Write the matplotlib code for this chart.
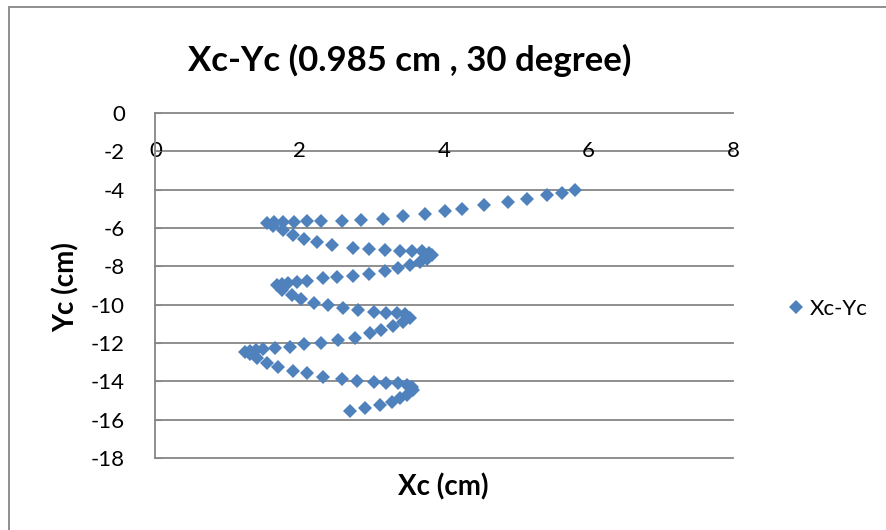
import matplotlib
matplotlib.use("Agg")
import matplotlib.pyplot as plt
from matplotlib.patches import Rectangle

plt.rcParams['font.family'] = ['Lato', 'DejaVu Sans']
plt.rcParams['axes.unicode_minus'] = False

# centre position of the disc (cm)
xc = [5.81, 5.63, 5.43, 5.14, 4.89, 4.55, 4.25, 4.01, 3.74, 3.43,
      3.15, 2.85, 2.58, 2.29, 2.10, 1.92, 1.76, 1.64, 1.54, 1.63,
      1.76, 1.90, 2.06, 2.24, 2.45, 2.74, 2.96, 3.18, 3.39, 3.56,
      3.69, 3.79, 3.83, 3.76, 3.66, 3.52, 3.36, 3.18, 2.96, 2.73,
      2.51, 2.32, 2.10, 1.96, 1.83, 1.75, 1.68, 1.75, 1.89, 2.02,
      2.19, 2.39, 2.60, 2.81, 3.02, 3.20, 3.34, 3.46, 3.52, 3.43,
      3.29, 3.13, 2.97, 2.76, 2.53, 2.29, 2.06, 1.86, 1.66, 1.49,
      1.39, 1.31, 1.24, 1.31, 1.40, 1.54, 1.70, 1.91, 2.10, 2.32,
      2.58, 2.79, 3.02, 3.20, 3.36, 3.48, 3.55, 3.57, 3.48, 3.39,
      3.27, 3.11, 2.90, 2.70]
yc = [-4.02, -4.16, -4.29, -4.49, -4.64, -4.81, -4.99, -5.13, -5.25, -5.39,
      -5.51, -5.58, -5.62, -5.65, -5.65, -5.67, -5.67, -5.69, -5.72, -5.89,
      -6.10, -6.35, -6.57, -6.73, -6.87, -7.03, -7.09, -7.16, -7.20, -7.20,
      -7.21, -7.32, -7.41, -7.63, -7.76, -7.93, -8.07, -8.23, -8.38, -8.49,
      -8.54, -8.63, -8.76, -8.82, -8.88, -8.92, -8.97, -9.23, -9.49, -9.72,
      -9.89, -10.02, -10.19, -10.28, -10.36, -10.42, -10.42, -10.49, -10.71, -10.89,
      -11.11, -11.32, -11.49, -11.75, -11.84, -11.98, -12.05, -12.19, -12.27, -12.33,
      -12.36, -12.40, -12.45, -12.57, -12.80, -13.02, -13.23, -13.44, -13.58, -13.76,
      -13.89, -13.96, -14.03, -14.10, -14.10, -14.19, -14.31, -14.45, -14.71, -14.88,
      -15.06, -15.23, -15.40, -15.55]

x_ticks = [0, 2, 4, 6, 8]
y_ticks = [0, -2, -4, -6, -8, -10, -12, -14, -16, -18]

W, H = 887, 530
fig = plt.figure(figsize=(W / 100, H / 100), dpi=100)
ax = fig.add_axes([155.5 / W, 1 - 458 / H, (733 - 155.5) / W, (458 - 113) / H])

grid_col = '#868686'
ax.plot(xc, yc, linestyle='none', marker='D', ms=7.2, color='#4F81BD',
        markeredgewidth=0, label='Xc-Yc', clip_on=False)

ax.set_xlim(0, 8)
ax.set_ylim(-18, 0)
ax.set_yticks(y_ticks)
ax.set_yticklabels([str(v) for v in y_ticks])
ax.set_xticks([])
for s in ['top', 'right', 'bottom']:
    ax.spines[s].set_visible(False)
ax.spines['left'].set_color(grid_col)
ax.spines['left'].set_linewidth(1.3)
ax.tick_params(axis='y', direction='in', length=4, color=grid_col,
               labelsize=16, pad=22)
for v in y_ticks:
    ax.axhline(v, color=grid_col, lw=1.3, zorder=0, clip_on=False)

# horizontal axis labels sit on the -2 line
for v in x_ticks:
    ax.text(v, -2, str(v), ha='center', va='center', fontsize=16, zorder=1)

fig.text(410 / W, 1 - 60 / H, 'Xc-Yc (0.985 cm , 30 degree)',
         ha='center', va='center', fontsize=25, fontweight='bold')
fig.text(443 / W, 1 - 487 / H, 'Xc (cm)', ha='center', va='center',
         fontsize=20, fontweight='bold')
fig.text(66 / W, 1 - 287 / H, 'Yc (cm)', ha='center', va='center',
         fontsize=20, fontweight='bold', rotation=90)

fig.legend(loc='center left', bbox_to_anchor=(772 / W, 1 - 309 / H),
           frameon=False, fontsize=16, handletextpad=0.0, borderpad=0,
           handlelength=1.2)

fig.patches.append(Rectangle((9 / W, -0.1), 1.2, 1.1 - 7 / H,
                             transform=fig.transFigure, fill=False,
                             edgecolor='#868686', lw=1.3))

fig.savefig('out.png', dpi=100)
